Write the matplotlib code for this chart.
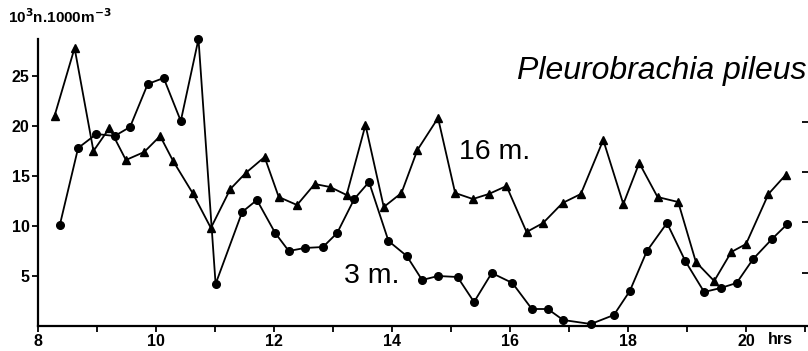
import matplotlib
matplotlib.use("Agg")
import matplotlib.pyplot as plt

# 3 m. series (circles)
hours_3m = [8.37, 8.68, 8.99, 9.30, 9.56, 9.86, 10.13, 10.42, 10.72, 11.01,
            11.46, 11.71, 12.02, 12.25, 12.52, 12.83, 13.07, 13.36, 13.61, 13.94,
            14.25, 14.51, 14.78, 15.11, 15.39, 15.69, 16.04, 16.37, 16.64, 16.90,
            17.37, 17.76, 18.03, 18.32, 18.66, 18.97, 19.29, 19.57, 19.84, 20.12,
            20.44, 20.70]
vals_3m = [10.1, 17.8, 19.2, 19.0, 19.9, 24.2, 24.8, 20.5, 28.7, 4.2,
           11.4, 12.6, 9.3, 7.5, 7.8, 7.9, 9.3, 12.7, 14.4, 8.5,
           7.0, 4.6, 5.0, 4.9, 2.4, 5.3, 4.3, 1.7, 1.7, 0.6,
           0.2, 1.1, 3.5, 7.5, 10.3, 6.5, 3.4, 3.8, 4.3, 6.7,
           8.7, 10.2]

# 16 m. series (triangles)
hours_16m = [8.28, 8.62, 8.94, 9.21, 9.49, 9.80, 10.07, 10.29, 10.62, 10.93,
             11.26, 11.52, 11.84, 12.08, 12.39, 12.69, 12.95, 13.23, 13.55, 13.86,
             14.16, 14.43, 14.78, 15.07, 15.37, 15.64, 15.94, 16.28, 16.56, 16.89,
             17.20, 17.58, 17.92, 18.19, 18.50, 18.85, 19.15, 19.46, 19.75, 20.00,
             20.38, 20.67]
vals_16m = [21.0, 27.8, 17.5, 19.8, 16.6, 17.4, 19.0, 16.5, 13.3, 9.8,
            13.7, 15.3, 16.9, 12.9, 12.1, 14.2, 13.9, 13.1, 20.1, 11.9,
            13.3, 17.6, 20.8, 13.3, 12.7, 13.2, 14.0, 9.4, 10.3, 12.3,
            13.2, 18.6, 12.2, 16.3, 12.9, 12.4, 6.4, 4.5, 7.4, 8.2,
            13.2, 15.1]

x_ticks = list(range(8, 22))
x_labels = ["8", "", "10", "", "12", "", "14", "", "16", "", "18", "", "20", ""]
y_ticks = [5, 10, 15, 20, 25]

plt.rcParams['font.family'] = ['Liberation Sans', 'DejaVu Sans']

fig = plt.figure(figsize=(8.08, 3.51), dpi=100)
ax = fig.add_axes([38 / 808, 25 / 351, 770 / 808, 287 / 351])

ax.plot(hours_16m, vals_16m, color='black', lw=1.3, marker='^', ms=5.5, clip_on=False)
ax.plot(hours_3m, vals_3m, color='black', lw=1.3, marker='o', ms=5.5, clip_on=False)

ax.set_xlim(8, 21.05)
ax.set_ylim(0, 28.7)
ax.set_xticks(x_ticks)
ax.set_xticklabels(x_labels, fontweight='bold', fontsize=11.5)
ax.set_yticks(y_ticks)
ax.set_yticklabels([str(t) for t in y_ticks], fontweight='bold', fontsize=11.5)
ax.tick_params(axis='both', direction='out', length=4, width=1.3, pad=2)
for side in ['top', 'right']:
    ax.spines[side].set_visible(False)
for side in ['left', 'bottom']:
    ax.spines[side].set_linewidth(1.6)

# clipped right-hand scale: only its tick marks remain
ax2 = ax.twinx()
ax2.set_ylim(-0.26, 28.19)
ax2.set_yticks([5, 10, 15, 20])
ax2.set_yticklabels([])
ax2.tick_params(axis='y', direction='in', length=4, width=1.3)
for side in ['top', 'right', 'left', 'bottom']:
    ax2.spines[side].set_visible(False)

ax.text(20.58, -0.021, "hrs", transform=ax.get_xaxis_transform(),
        ha='center', va='top', fontweight='bold', fontsize=11.5)
fig.text(8 / 808, 1 - 17 / 351, r"10$^{\mathbf{3}}$n.1000m$^{\mathbf{-3}}$",
         ha='left', va='center', fontweight='bold', fontsize=11)

ax.text(21.02, 25.5, "Pleurobrachia pileus", style='italic', fontsize=23,
        ha='right', va='center')
ax.text(15.14, 17.4, "16 m.", fontsize=20.5, ha='left', va='center')
ax.text(13.19, 5.0, "3 m.", fontsize=20.5, ha='left', va='center')

plt.savefig("out.png", dpi=100)
